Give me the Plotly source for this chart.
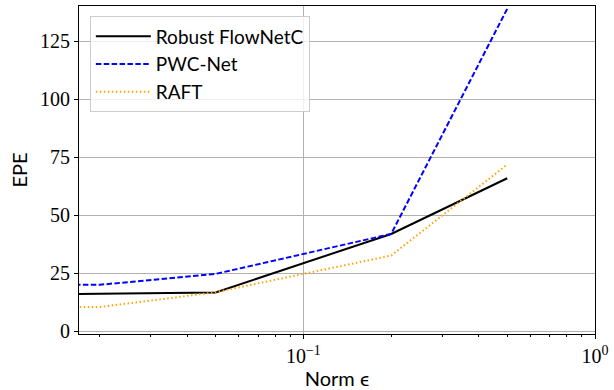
import plotly.graph_objects as go
import numpy as np

x_norm = [0.01, 0.02, 0.05, 0.2, 0.5]
robust_flownetc = [16.0, 16.2, 16.8, 42.0, 66.0]
pwc_net = [20.0, 20.1, 24.8, 42.0, 139.0]
raft = [10.5, 10.5, 16.9, 32.7, 71.9]

y_ticks = [0, 25, 50, 75, 100, 125]
x_tickvals = [0.1, 1.0]
x_ticktext = ["10<sup>−1</sup>", "10<sup>0</sup>"]
x_minor = [0.02, 0.03, 0.04, 0.05, 0.06, 0.07, 0.08, 0.09,
           0.2, 0.3, 0.4, 0.5, 0.6, 0.7, 0.8, 0.9]

fig = go.Figure()
fig.add_trace(go.Scatter(x=x_norm, y=robust_flownetc, mode="lines", name="Robust FlowNetC",
                         line=dict(color="black", width=2)))
fig.add_trace(go.Scatter(x=x_norm, y=pwc_net, mode="lines", name="PWC-Net",
                         line=dict(color="blue", width=2, dash="5.5px,2.4px")))
fig.add_trace(go.Scatter(x=x_norm, y=raft, mode="lines", name="RAFT",
                         line=dict(color="orange", width=2, dash="1.5px,2.5px")))

tickfont = dict(family="Liberation Serif, DejaVu Serif, serif", size=20, color="black")
titlefont = dict(family="Lato, DejaVu Sans, sans-serif", size=20, color="black")

fig.update_layout(
    width=614, height=390,
    margin=dict(l=79, r=19, t=6, b=56, autoexpand=False),
    paper_bgcolor="white", plot_bgcolor="white",
    showlegend=True,
    legend=dict(x=0.021, y=0.968, xanchor="left", yanchor="top",
                bgcolor="rgba(255,255,255,0.8)", bordercolor="#cccccc", borderwidth=1,
                itemwidth=55,
                font=dict(family="Lato, DejaVu Sans, sans-serif", size=19, color="black")),
    xaxis=dict(type="log", range=[np.log10(0.017), 0.0], tickvals=x_tickvals, ticktext=x_ticktext,
               showgrid=True, gridcolor="#b0b0b0", gridwidth=1,
               showline=True, linecolor="black", linewidth=1.2, mirror=True,
               ticks="outside", ticklen=4, tickcolor="black",
               minor=dict(tickmode="array", tickvals=x_minor, ticks="outside", ticklen=2,
                          tickcolor="black", showgrid=False),
               tickfont=tickfont, zeroline=False, automargin=False,
               title=dict(text="Norm ϵ", font=titlefont, standoff=0)),
    yaxis=dict(range=[-1.1, 140.2], tickvals=y_ticks,
               showgrid=True, gridcolor="#b0b0b0", gridwidth=1,
               showline=True, linecolor="black", linewidth=1.2, mirror=True,
               ticks="outside", ticklen=4, tickcolor="black",
               tickfont=tickfont, zeroline=False, automargin=False,
               title=dict(text="EPE", font=titlefont, standoff=6)),
)

fig.write_html("out.html", post_script="document.body.style.margin='0';",
               config={"displayModeBar": False})
